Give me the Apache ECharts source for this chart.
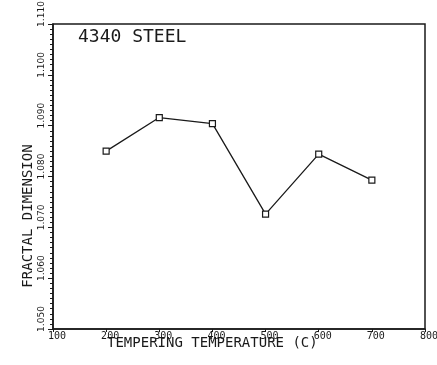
<!DOCTYPE html>
<html>
<head>
<meta charset="utf-8">
<title>4340 steel</title>
<script src="https://cdn.jsdelivr.net/npm/echarts@6/dist/echarts.min.js"></script>
<style>
  html, body { margin: 0; padding: 0; background: #fff; }
  #chart { width: 437px; height: 365px; }
</style>
</head>
<body>
<div id="chart"></div>
<script>
// tempering temperature (C) vs fractal dimension
var temps = [200, 300, 400, 500, 600, 700];
var fracDim = [1.0850, 1.0916, 1.0904, 1.0726, 1.0844, 1.0793];
var xTicks = [100, 200, 300, 400, 500, 600, 700, 800];
var yTicks = [1.05, 1.06, 1.07, 1.08, 1.09, 1.10, 1.11];

var plotFont = 'DejaVu Sans Mono';
var ink = '#1a1a1a';

var chart = echarts.init(document.getElementById('chart'));

var option = {
  backgroundColor: '#fff',
  animation: false,
  grid: {
    left: 53, right: 12, top: 24, bottom: 36,
    outerBoundsMode: 'none',
    containLabel: false,
    show: true,
    borderColor: ink,
    borderWidth: 1.5
  },
  xAxis: {
    type: 'value',
    min: xTicks[0],
    max: xTicks[xTicks.length - 1],
    interval: 100,
    splitLine: { show: false },
    axisLine: { show: true, lineStyle: { color: ink, width: 1.5 } },
    axisTick: { show: true, length: 3, lineStyle: { color: ink } },
    axisLabel: {
      margin: 2,
      color: ink,
      fontFamily: plotFont,
      fontSize: 10,
      align: 'center',
      padding: [0, 0, 0, 8]
    }
  },
  yAxis: {
    type: 'value',
    min: yTicks[0],
    max: yTicks[yTicks.length - 1],
    interval: 0.01,
    splitLine: { show: false },
    axisLine: { show: true, lineStyle: { color: ink, width: 1.5 } },
    axisTick: { show: true, length: 5, lineStyle: { color: ink } },
    minorTick: { show: true, splitNumber: 10, length: 3, lineStyle: { color: ink } },
    axisLabel: {
      rotate: 90,
      margin: 7,
      align: 'center',
      verticalAlign: 'bottom',
      padding: [0, 0, 0, 20],
      color: ink,
      fontFamily: 'DejaVu Sans',
      fontSize: 9,
      formatter: function (v) { return v.toFixed(3); }
    }
  },
  graphic: [
    {
      type: 'text',
      left: 78, top: 28,
      style: { text: '4340 STEEL', font: '18px "DejaVu Sans Mono"', fill: ink }
    },
    {
      type: 'text',
      left: 107, top: 336,
      style: { text: 'TEMPERING TEMPERATURE (C)', font: '14px "DejaVu Sans Mono"', fill: ink }
    },
    {
      type: 'text',
      x: 28, y: 216,
      rotation: Math.PI / 2,
      style: {
        text: 'FRACTAL DIMENSION',
        font: '14px "DejaVu Sans Mono"',
        fill: ink,
        align: 'center',
        verticalAlign: 'middle'
      }
    }
  ],
  series: [
    {
      type: 'line',
      data: temps.map(function (t, i) { return [t, fracDim[i]]; }),
      symbol: 'rect',
      symbolSize: 6,
      showSymbol: true,
      lineStyle: { color: ink, width: 1.3 },
      itemStyle: { color: '#fff', borderColor: ink, borderWidth: 1.2 }
    }
  ]
};

chart.setOption(option);
</script>
</body>
</html>
